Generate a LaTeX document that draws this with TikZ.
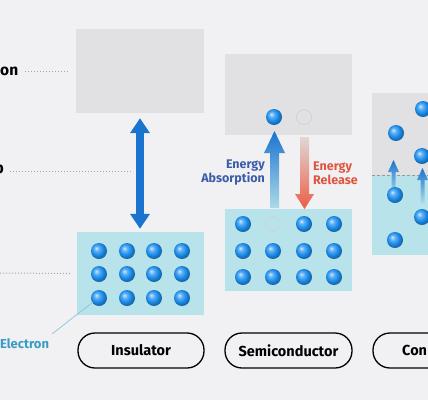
\documentclass[tikz,border=0pt]{standalone}
\usepackage{fontspec}
\setmainfont{Fira Sans}
\usetikzlibrary{arrows.meta}
\definecolor{bgcol}{HTML}{F1F1F3}
\definecolor{gapgray}{HTML}{E1E1E3}
\definecolor{bandcyan}{HTML}{B9E3EA}
\definecolor{elecblue}{HTML}{1E8FEE}
\definecolor{arrblue}{HTML}{1A74CF}
\definecolor{arrred}{HTML}{EB5E45}
\definecolor{txtblue}{HTML}{3C5CA8}
\definecolor{txtred}{HTML}{E0553F}
\definecolor{elabel}{HTML}{3A9CC4}
\pgfdeclareradialshading{elecball}{\pgfqpoint{-9bp}{9bp}}{%
  color(0bp)=(elecblue!20!white); color(8bp)=(elecblue!70!white);
  color(17bp)=(elecblue); color(25bp)=(elecblue!75!black); color(50bp)=(elecblue!60!black)}
\begin{document}
\begin{tikzpicture}[x=1pt,y=-1pt,
  upper/.style={fill=gapgray,minimum width=128,minimum height=84,inner sep=0},
  lower/.style={fill=bandcyan,minimum width=127,minimum height=83,inner sep=0},
  elec/.style={circle,inner sep=0,minimum size=16,shading=elecball},
  hole/.style={circle,inner sep=0,minimum size=15,draw=gray!35,line width=0.8},
  pill/.style={draw,line width=1.3,rounded corners=17,minimum height=35,inner sep=0,font=\fontsize{14.5}{17}\selectfont\bfseries},
  dotline/.style={gray!70,line width=1,dash pattern=on 1pt off 2pt},
  side/.style={font=\fontsize{15.5}{18}\selectfont\bfseries,inner sep=0}]
  \useasboundingbox (0,0) rectangle (428,400);
  \fill[bgcol] (0,0) rectangle (428,400);
  \clip (0,0) rectangle (428,400);
  % level labels on the left
  \node[side,anchor=west] (lblC) at (0,71) {on};
  \node[side,anchor=east] (lblG) at (4,171) {p};
  \coordinate (lblV) at (0,273);
  % insulator
  \node[upper] (insC) at (140,71) {};
  \node[lower] (insV) at (140,273.5) {};
  \foreach \x in {99,127,154,182}
    \foreach \y in {251,274,298}
      \node[elec] at (\x,\y) {};
  \coordinate (insE) at (99,298);
  \draw[arrblue,line width=8,{Triangle[width=19,length=15]}-{Triangle[width=19,length=15]}]
    ([yshift=-5]insC.south) -- ([yshift=3]insV.north);
  \draw[dotline] ([xshift=7]lblC.east) -- ([xshift=-6]insC.west);
  \draw[dotline] ([xshift=6]lblG.east) -- (133,171);
  \draw[dotline] (lblV) -- ([xshift=-6]insV.west);
  % semiconductor
  \node[upper,minimum width=127,minimum height=81] (semC) at (288.5,94.5) {};
  \node[lower,minimum height=82] (semV) at (288.5,250) {};
  \foreach \x in {243,273,304,334}
    \foreach \y in {251,277}
      \node[elec] at (\x,\y) {};
  \foreach \x in {243,304,334}
    \node[elec] at (\x,224) {};
  \node[hole] (semH) at (273,224) {};
  \node[elec] (semE) at (274,117) {};
  \node[hole] (semO) at (304,117) {};
  \shade[top color=arrblue,bottom color=arrblue!8!bandcyan]
    (270,208) -- (270,153) -- (264,153) -- (274.5,131) -- (285,153) -- (279,153) -- (279,208) -- cycle;
  \shade[top color=arrred!8!gapgray,bottom color=arrred]
    (300,137) -- (300,194) -- (295,194) -- (304.5,209) -- (314,194) -- (309,194) -- (309,137) -- cycle;
  \node[align=right,anchor=east,text=txtblue,font=\fontsize{12.5}{14}\selectfont\bfseries,inner sep=0] (absLbl) at (265,173) {Energy\\Absorption};
  \node[align=left,anchor=west,text=txtred,font=\fontsize{12.5}{14}\selectfont\bfseries,inner sep=0] (relLbl) at (313,173) {Energy\\Release};
  % conductor
  \fill[gapgray] (372,93) rectangle (440,175);
  \fill[bandcyan] (372,175) rectangle (440,255);
  \draw[gray!80,line width=1,dash pattern=on 3pt off 2pt] (372,175) -- (440,175);
  \shade[top color=arrblue,bottom color=arrblue!8!bandcyan]
    (391.5,195) -- (391.5,172) -- (388,172) -- (393.5,160) -- (399,172) -- (395.5,172) -- (395.5,195) -- cycle;
  \shade[top color=arrblue,bottom color=arrblue!8!bandcyan]
    (420.5,203) -- (420.5,180) -- (417,180) -- (422.5,168) -- (428,180) -- (424.5,180) -- (424.5,203) -- cycle;
  \foreach \x/\y in {396/133,423/109,422/156,395/195,422/217,395/240}
    \node[elec] at (\x,\y) {};
  % electron label
  \node[anchor=west,text=elabel,font=\fontsize{13}{15}\selectfont\bfseries,inner sep=0] (elLbl) at (0,344) {Electron};
  \draw[elabel!60,line width=0.7] ([xshift=3,yshift=5]elLbl.north east) -- ([xshift=-6,yshift=-4]insE);
  % bottom labels
  \node[pill,minimum width=126] (pIns) at (141,350.5) {Insulator};
  \node[pill,minimum width=127] (pSem) at (288.5,350.5) {Semiconductor};
  \draw[line width=1.3,rounded corners=17] (445,333) -- (373,333) -- (373,368) -- (445,368);
  \node[anchor=west,inner sep=0,font=\fontsize{14.5}{17}\selectfont\bfseries] (pCon) at (402,350.5) {Con};
\end{tikzpicture}
\end{document}
